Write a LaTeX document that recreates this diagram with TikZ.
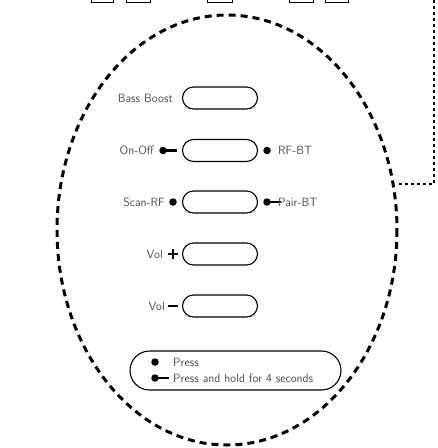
\documentclass[tikz,border=0pt]{standalone}
\usetikzlibrary{positioning,shapes.misc}
\begin{document}
\begin{tikzpicture}[
    x=1pt, y=-1pt,
    knapp/.style={rounded rectangle, draw, line width=1.1pt,
        minimum width=75pt, minimum height=22pt, inner sep=0pt},
    merke/.style={inner sep=0pt, text=black!70,
        font=\sffamily\fontsize{12}{14}\selectfont},
    prikk/.style={circle, fill, inner sep=0pt, minimum size=7.5pt},
    strek/.style={line width=2.6pt},
    omriss/.style={line width=3pt, dash pattern=on 7pt off 5pt},
    kant/.style={line width=2pt, dash pattern=on 3pt off 3pt}
    ]
\useasboundingbox (0,0) rectangle (438,448);
\clip (0,0) rectangle (438,448);

%casing
\draw[omriss] (227,230) ellipse [x radius=170, y radius=215];
\foreach \venstre/\hoyre in {91/113,126/150,207/232,289/313,325/348}
    \draw[line width=0.8pt] (\venstre,-5) rectangle (\hoyre,2.5);
\coordinate (hjorne) at (434,184);
\draw[kant] (434,0) -- (hjorne) -- (397,184);

%buttons
\node[knapp] (bass) at (220,98) {};
\node[knapp] (onoff) at (220,150.5) {};
\node[knapp] (scan) at (220,202) {};
\node[knapp] (volopp) at (220,254) {};
\node[knapp] (volned) at (220,306) {};

%Bass Boost
\node[merke, left=9pt of bass] {Bass Boost};

%On-Off / RF-BT
\node[prikk] (onoffprikk) at (163,150.5) {};
\draw[strek] (onoffprikk.center) -- ++(14,0);
\node[merke, left=5pt of onoffprikk] {On-Off};
\node[prikk] (rfbtprikk) at (267,150.5) {};
\node[merke, right=7pt of rfbtprikk] {RF-BT};

%Scan-RF / Pair-BT
\node[prikk] (scanprikk) at (173,202) {};
\node[merke, left=4pt of scanprikk] {Scan-RF};
\node[prikk] (pairprikk) at (267,202) {};
\draw[strek] (pairprikk.center) -- ++(14,0);
\node[merke, right=7pt of pairprikk] {Pair-BT};

%Vol
\coordinate (pluss) at (173,254);
\draw[strek] ([xshift=-5pt]pluss) -- ([xshift=5pt]pluss);
\draw[strek] ([yshift=-5pt]pluss) -- ([yshift=5pt]pluss);
\node[merke, left=10pt of pluss] {Vol};
\coordinate (minusa) at (168,306);
\draw[strek] (minusa) -- ++(10,0);
\node[merke, left=3pt of minusa] {Vol};

%legend
\node[knapp, minimum width=211pt, minimum height=39pt] (forklaring) at (235.5,370.5) {};
\node[prikk] (trykkprikk) at (155,362) {};
\node[merke, anchor=west] at (173,362) {Press};
\node[prikk] (holdprikk) at (155,378) {};
\draw[strek] (holdprikk.center) -- ++(14,0);
\node[merke, anchor=west] at (173,378) {Press and hold for 4 seconds};
\end{tikzpicture}
\end{document}
